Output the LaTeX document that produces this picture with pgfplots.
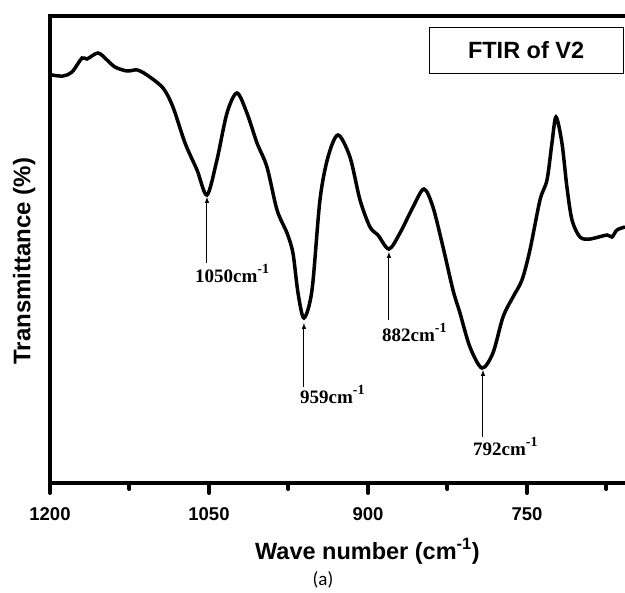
\documentclass[border=0pt]{standalone}
\usepackage{fontspec}
\setmainfont{Liberation Sans}
\newfontfamily\timesf{Liberation Serif}
\newfontfamily\carl{Carlito}
\usepackage{pgfplots}
\pgfplotsset{compat=1.18}
\newcommand{\supm}{\raisebox{0.45em}{\fontsize{14}{14}\selectfont -1}}
\begin{document}
\begin{tikzpicture}
\begin{axis}[
  width=575pt, height=467pt, scale only axis,
  x dir=reverse, xmin=657.5, xmax=1200, ymin=0, ymax=467,
  axis x line*=bottom, axis y line*=left,
  axis line style={line width=4.8pt, -, line cap=rect},
  xtick={750,900,1050,1200}, minor xtick={675,825,975,1125},
  ytick=\empty,
  xtick align=outside,
  major tick length=10pt, minor tick length=6pt,
  every tick/.style={line width=4pt, black, line cap=round},
  /pgf/number format/assume math mode=true,
  /pgf/number format/1000 sep={},
  xticklabel style={font=\bfseries\fontsize{18.5}{18}\selectfont, anchor=base, yshift=-27pt},
  xlabel={Wave number (cm\textsuperscript{-1})},
  ylabel={Transmittance (\%)},
  xlabel style={font=\bfseries\fontsize{23.5}{24}\selectfont, at={([yshift=-76pt]axis description cs:0.552,0)}, anchor=base},
  ylabel style={font=\bfseries\fontsize{24}{24}\selectfont, at={([xshift=-19.5pt]axis description cs:0,0.475)}, anchor=base},
  clip=false,
]
\addplot[line width=3.5pt, black, smooth] coordinates {
(1200,409) (1198.1,408) (1187.7,407) (1179.2,411) (1169.8,425) (1165.1,424)
(1154.7,430) (1146.2,423) (1138.7,416) (1127.4,412) (1117.9,413) (1108.5,408)
(1093.4,395) (1084.0,376) (1072.6,340) (1061.3,313) (1051.9,288) (1042.5,323)
(1033.0,370) (1023.6,390) (1014.2,370) (1004.7,340) (995.3,316) (985.8,273)
(976.4,250) (970.8,230) (966.0,190) (960.4,165) (952.8,193) (945.3,283)
(937.7,326) (928.3,348) (917.0,326) (907.5,283) (898.1,256) (890.6,248)
(880.2,234) (869.8,250) (857.5,276) (847.2,294) (838.7,276) (829.2,236)
(819.8,193) (813.2,170) (803.8,136) (792.5,115) (782.1,130) (772.6,166)
(763.2,186) (754.7,203) (747.2,233) (737.7,283) (731.1,303) (726.4,340)
(722.6,366) (717.0,340) (712.3,296) (707.5,263) (700.0,246) (690.6,244)
(674.5,248) (669.8,246) (665.1,253) (657.5,256)
};
\draw[line width=4.8pt, line cap=rect] (rel axis cs:0,1) -- (rel axis cs:1,1);
\draw[-latex, line width=1pt] (axis cs:1051.9,220) -- (axis cs:1051.9,286);
\draw[-latex, line width=1pt] (axis cs:960.4,96) -- (axis cs:960.4,160);
\draw[-latex, line width=1pt] (axis cs:880.2,163) -- (axis cs:880.2,231);
\draw[-latex, line width=1pt] (axis cs:791.5,46) -- (axis cs:791.5,113);
\node[anchor=base west, inner sep=0pt, font=\timesf\bfseries\fontsize{19}{19}\selectfont] at (axis cs:1063.2,201) {1050cm\supm};
\node[anchor=base west, inner sep=0pt, font=\timesf\bfseries\fontsize{19}{19}\selectfont] at (axis cs:964.2,80) {959cm\supm};
\node[anchor=base west, inner sep=0pt, font=\timesf\bfseries\fontsize{19}{19}\selectfont] at (axis cs:886.8,142) {882cm\supm};
\node[anchor=base west, inner sep=0pt, font=\timesf\bfseries\fontsize{19}{19}\selectfont] at (axis cs:800.9,28) {792cm\supm};
\node[draw, line width=1pt, minimum width=194pt, minimum height=46pt, inner sep=0pt, font=\bfseries\fontsize{23.5}{24}\selectfont] at (axis description cs:0.828,0.927) {FTIR of V2};
\node[anchor=base, inner sep=0pt, font=\carl\fontsize{19}{19}\selectfont] at ([yshift=-102pt]axis description cs:0.4748,0) {(a)};
\coordinate (pbl) at ([xshift=-50pt,yshift=-109pt]rel axis cs:0,0);
\coordinate (ptr) at ([yshift=16pt]rel axis cs:1,1);
\end{axis}
\pgfresetboundingbox
\path[use as bounding box] (pbl) rectangle (ptr);
\end{tikzpicture}
\end{document}
